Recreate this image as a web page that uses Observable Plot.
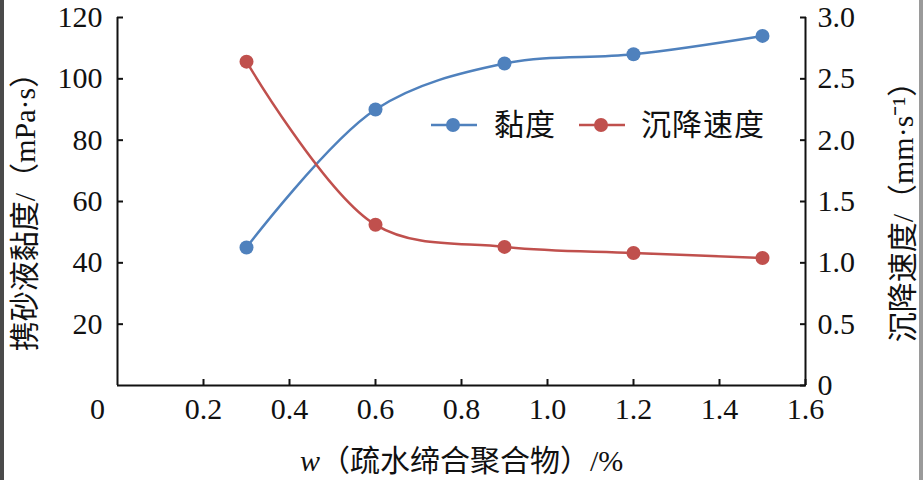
<!DOCTYPE html>
<html><head><meta charset="utf-8">
<script src="https://cdn.jsdelivr.net/npm/d3@7"></script>
<script src="https://cdn.jsdelivr.net/npm/@observablehq/plot@0.6"></script>
<style>
body{margin:0;background:#fff;}
#wrap{position:relative;width:923px;height:480px;overflow:hidden;background:#fff;}
.ttl{position:absolute;font-family:"Liberation Serif","Noto Sans CJK SC";font-size:30px;color:#111;white-space:nowrap;line-height:1;}
.leg{position:absolute;font-family:"Noto Sans CJK SC";font-size:30px;letter-spacing:1px;color:#111;white-space:nowrap;line-height:1;}
.edgeL{position:absolute;left:0;top:0;width:4px;height:480px;background:#4a4a4a;}
.edgeR{position:absolute;right:0;top:0;width:4px;height:480px;background:#9a9a9a;}
</style></head><body><div id="wrap"></div>
<script>
// ---- data ----
const concentration = [0.3, 0.6, 0.9, 1.2, 1.5];          // w(疏水缔合聚合物)/%
const viscosity = [45, 90, 105, 108, 114];                  // 携砂液黏度 mPa·s
const settlingSpeed = [2.64, 1.31, 1.13, 1.08, 1.04];       // 沉降速度 mm·s⁻¹
const xTicks = [0.2, 0.4, 0.6, 0.8, 1.0, 1.2, 1.4, 1.6];
const leftTicks = [20, 40, 60, 80, 100, 120];
const rightTicks = [0, 0.5, 1.0, 1.5, 2.0, 2.5, 3.0];
const seriesNames = ["黏度", "沉降速度"];
const colors = ["#4f81bd", "#c0504d"];
const leftTitle = "携砂液黏度/（mPa·s）";
const rightTitle = "沉降速度/（mm·s⁻¹）";

const leftMax = 120, rightMax = 3.0;
const k = leftMax / rightMax;

const visc = concentration.map((x, i) => ({x, y: viscosity[i]}));
const speed = concentration.map((x, i) => ({x, y: settlingSpeed[i] * k}));

const font = "Liberation Serif, Noto Sans CJK SC";
const tf = {fontFamily: font};

const chart = Plot.plot({
  width: 923, height: 480,
  marginLeft: 117, marginRight: 118, marginTop: 17, marginBottom: 95,
  style: {fontFamily: font, fontSize: "30px", color: "#111", background: "transparent", overflow: "visible"},
  x: {domain: [0, 1.6]},
  y: {domain: [0, leftMax]},
  marks: [
    Plot.ruleX([0], {stroke: "#111", strokeWidth: 2}),
    Plot.ruleX([1.6], {stroke: "#111", strokeWidth: 2}),
    Plot.ruleY([0], {stroke: "#111", strokeWidth: 2}),
    Plot.axisX({ticks: xTicks, tickSize: -6, fill: "none", strokeWidth: 2, label: null}),
    Plot.axisX({ticks: xTicks, tickSize: 0, tickPadding: 12, stroke: "none", tickFormat: d => d.toFixed(1), label: null, ...tf}),
    Plot.axisX({ticks: [0], tickSize: 0, tickPadding: 12, stroke: "none", dx: -20, tickFormat: d => "0", label: null, ...tf}),
    Plot.axisY({anchor: "left", ticks: leftTicks, tickSize: -6, fill: "none", strokeWidth: 2, label: null}),
    Plot.axisY({anchor: "left", ticks: leftTicks, tickSize: 0, tickPadding: 15, stroke: "none", label: null, ...tf}),
    Plot.axisY({anchor: "right", ticks: rightTicks.map(d => d * k), tickSize: -6, fill: "none", strokeWidth: 2, label: null}),
    Plot.axisY({anchor: "right", ticks: rightTicks.map(d => d * k), tickSize: 0, tickPadding: 12, stroke: "none",
      tickFormat: d => { const v = d / k; return v === 0 ? "0" : v.toFixed(1); }, label: null, ...tf}),
    Plot.text([leftTitle], {text: d => d, frameAnchor: "left", dx: -92, dy: 3, rotate: -90, textAnchor: "middle", fontSize: 30, ...tf}),
    Plot.text([rightTitle], {text: d => d, frameAnchor: "right", dx: 98, dy: 3, rotate: -90, textAnchor: "middle", fontSize: 30, ...tf}),
    Plot.line(visc, {x: "x", y: "y", stroke: colors[0], strokeWidth: 2.5, curve: "catmull-rom"}),
    Plot.line(speed, {x: "x", y: "y", stroke: colors[1], strokeWidth: 2.5, curve: "catmull-rom"}),
    Plot.dot(visc, {x: "x", y: "y", r: 7, fill: colors[0]}),
    Plot.dot(speed, {x: "x", y: "y", r: 7, fill: colors[1]})
  ]
});

const wrap = document.getElementById("wrap");
wrap.appendChild(chart);
chart.style.position = "absolute"; chart.style.left = "0"; chart.style.top = "0";

const xt = document.createElement("div");
xt.className = "ttl";
xt.innerHTML = "<i>w</i>（疏水缔合聚合物）/%";
xt.style.left = "300px"; xt.style.top = "446px";
wrap.appendChild(xt);

function swatch(color, left) {
  const s = document.createElementNS("http://www.w3.org/2000/svg", "svg");
  s.setAttribute("width", 46); s.setAttribute("height", 16);
  s.style.position = "absolute"; s.style.left = left + "px"; s.style.top = "117px";
  s.innerHTML = `<line x1="0" y1="8" x2="46" y2="8" stroke="${color}" stroke-width="2.5"/><circle cx="22" cy="8" r="7" fill="${color}"/>`;
  wrap.appendChild(s);
}
function legText(t, left) {
  const d = document.createElement("div");
  d.className = "leg"; d.textContent = t;
  d.style.left = left + "px"; d.style.top = "107px";
  wrap.appendChild(d);
}
swatch(colors[0], 431); legText(seriesNames[0], 494);
swatch(colors[1], 579); legText(seriesNames[1], 641);

const eL = document.createElement("div"); eL.className = "edgeL"; wrap.appendChild(eL);
const eR = document.createElement("div"); eR.className = "edgeR"; wrap.appendChild(eR);
</script></body></html>
